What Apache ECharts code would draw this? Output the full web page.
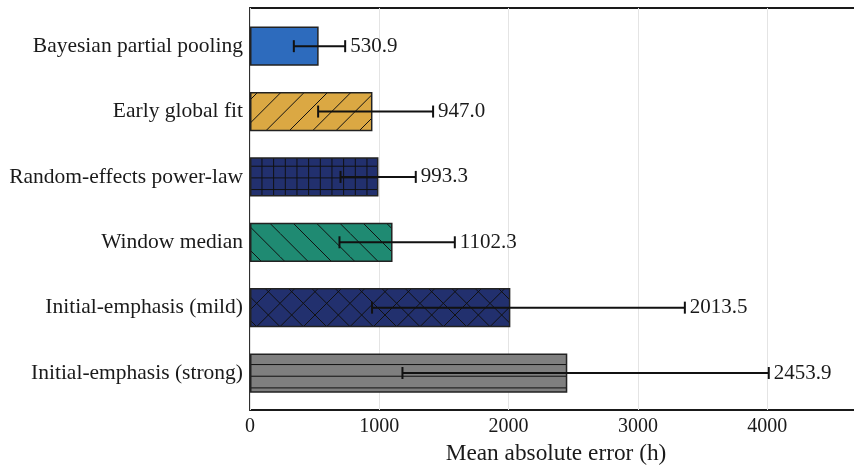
<!DOCTYPE html>
<html lang="en">
<head>
<meta charset="UTF-8">
<title>Mean absolute error by method</title>
<script src="https://cdn.jsdelivr.net/npm/echarts@6/dist/echarts.min.js"></script>
<style>
    html, body { margin: 0; padding: 0; background: #fff; }
    #chart1 { width: 854px; height: 470px; }
</style>
</head>
<body>
<div id="chart1"></div>
<script type="text/javascript">
    // data, top to bottom
    var methods = ['Bayesian partial pooling', 'Early global fit', 'Random-effects power-law',
        'Window median', 'Initial-emphasis (mild)', 'Initial-emphasis (strong)'];
    var maeValues = [530.9, 947.0, 993.3, 1102.3, 2013.5, 2453.9];
    var errLow = [339, 527, 700, 692, 944, 1179];
    var errHigh = [736, 1416, 1282, 1584, 3363, 4012];
    var xTicks = [0, 1000, 2000, 3000, 4000];
    var xMax = 4733;

    // styles
    var fillColors = ['#2d6bbd', '#dba843', '#22306e', '#1f8a72', '#22306e', '#7f7f7f'];
    var hatches = ['', '/', '+', '\\', 'x', '-'];
    var FONT = '"Liberation Serif", "DejaVu Serif", serif';
    var INK = '#1a1a1a';

    var U = 70 / 6;
    function makeHatch(bg, kind) {
        if (!kind) return bg;
        var c = document.createElement('canvas');
        c.width = 70;
        c.height = 70;
        var g = c.getContext('2d');
        g.fillStyle = bg;
        g.fillRect(0, 0, 70, 70);
        g.strokeStyle = '#111';
        g.lineWidth = 1;
        g.beginPath();
        var k, v;
        if (kind === '-' || kind === '+') {
            for (k = 0; k < 6; k++) { v = 2.9 + k * U; g.moveTo(0, v); g.lineTo(70, v); }
        }
        if (kind === '+') {
            for (k = 0; k < 6; k++) { v = 5.3 + k * U; g.moveTo(v, 0); g.lineTo(v, 70); }
        }
        if (kind === '/' || kind === 'x') {
            for (k = -1; k <= 7; k++) { v = k * 2 * U; g.moveTo(v, 0); g.lineTo(v - 70, 70); }
        }
        if (kind === '\\' || kind === 'x') {
            for (k = -4; k <= 4; k++) { v = k * 2 * U; g.moveTo(0, v); g.lineTo(70, v + 70); }
        }
        g.stroke();
        return {image: c, repeat: 'repeat'};
    }

    var barData = maeValues.map(function (v, i) {
        return {
            value: v,
            itemStyle: {color: makeHatch(fillColors[i], hatches[i])}
        };
    });
    var errData = methods.map(function (m, i) {
        return [i, errLow[i], errHigh[i], maeValues[i]];
    });

    var chart1 = echarts.init(document.getElementById('chart1'));
    chart1.setOption({
        animation: false,
        grid: [
            {left: 250, top: 8, width: 612, height: 402, outerBoundsMode: 'none',
                show: true, borderColor: '#1a1a1a', borderWidth: 1.8},
            {left: 250, top: 13.5, width: 612, height: 392.2, outerBoundsMode: 'none'}
        ],
        xAxis: [{
            gridIndex: 0,
            type: 'value',
            min: 0,
            max: xMax,
            interval: 1000,
            name: 'Mean absolute error (h)',
            nameLocation: 'middle',
            nameGap: 30,
            nameTextStyle: {fontFamily: FONT, fontSize: 23.3, color: INK},
            axisLine: {show: false},
            axisTick: {show: false},
            axisLabel: {
                fontFamily: FONT, fontSize: 20, color: INK, margin: 7,
                showMaxLabel: false,
                formatter: function (v) { return xTicks.indexOf(v) >= 0 ? String(v) : ''; }
            },
            splitLine: {show: true, lineStyle: {color: '#e4e4e4', width: 1}}
        }, {
            gridIndex: 1,
            type: 'value',
            min: 0,
            max: xMax,
            show: false
        }],
        yAxis: [{
            gridIndex: 0,
            type: 'value',
            show: false
        }, {
            gridIndex: 1,
            type: 'category',
            data: methods,
            inverse: true,
            axisLine: {show: false},
            axisTick: {show: false},
            splitLine: {show: false},
            axisLabel: {fontFamily: FONT, fontSize: 21.5, color: INK, margin: 7}
        }],
        series: [{
            type: 'bar',
            xAxisIndex: 1,
            yAxisIndex: 1,
            barWidth: '60%',
            data: barData,
            itemStyle: {borderColor: '#222', borderWidth: 1.5}
        }, {
            type: 'custom',
            xAxisIndex: 1,
            yAxisIndex: 1,
            z: 5,
            encode: {x: [1, 2], y: 0},
            data: errData,
            renderItem: function (params, api) {
                var yi = api.value(0);
                var p0 = api.coord([api.value(1), yi]);
                var p1 = api.coord([api.value(2), yi]);
                var h = 6;
                var ls = {stroke: '#111', lineWidth: 2};
                return {
                    type: 'group',
                    children: [
                        {type: 'line', shape: {x1: p0[0], y1: p0[1], x2: p1[0], y2: p1[1]}, style: ls},
                        {type: 'line', shape: {x1: p0[0], y1: p0[1] - h, x2: p0[0], y2: p0[1] + h}, style: ls},
                        {type: 'line', shape: {x1: p1[0], y1: p1[1] - h, x2: p1[0], y2: p1[1] + h}, style: ls},
                        {
                            type: 'text', x: p1[0] + 5, y: p1[1],
                            style: {
                                text: api.value(3).toFixed(1),
                                fontFamily: FONT, fontSize: 21, fill: INK,
                                align: 'left', verticalAlign: 'middle'
                            }
                        }
                    ]
                };
            }
        }]
    });
</script>
</body>
</html>
